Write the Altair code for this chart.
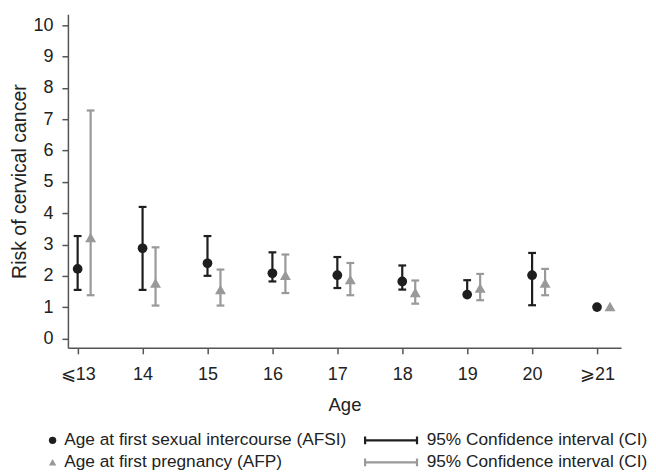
import altair as alt
import pandas as pd

age_labels = ["⩽13", "14", "15", "16", "17", "18", "19", "20", "⩾21"]
afsi_est = [2.22, 2.88, 2.40, 2.08, 2.02, 1.82, 1.40, 2.02, 1.00]
afsi_lo = [1.55, 1.55, 2.00, 1.82, 1.61, 1.56, 1.40, 1.06, 1.00]
afsi_hi = [3.27, 4.20, 3.27, 2.75, 2.60, 2.33, 1.86, 2.73, 1.00]
afp_est = [3.22, 1.77, 1.56, 2.02, 1.88, 1.47, 1.61, 1.77, 1.02]
afp_lo = [1.38, 1.05, 1.05, 1.45, 1.38, 1.11, 1.22, 1.38, 1.02]
afp_hi = [7.28, 2.91, 2.20, 2.68, 2.41, 1.85, 2.06, 2.22, 1.02]

S1 = "Age at first sexual intercourse (AFSI)"
S2 = "Age at first pregnancy (AFP)"
BLACK = "#1e1e1e"
GRAY = "#999999"
offset = 0.2
cap = 0.06

rows = []
for i in range(len(age_labels)):
    rows.append(dict(series=S1, ci="CI1", x=i, est=afsi_est[i], lo=afsi_lo[i], hi=afsi_hi[i]))
    rows.append(dict(series=S2, ci="CI2", x=i + offset, est=afp_est[i], lo=afp_lo[i], hi=afp_hi[i]))
df = pd.DataFrame(rows)
df["xl"] = df["x"] - cap
df["xr"] = df["x"] + cap
ci_df = df[df["hi"] > df["lo"]]

FONT = "Liberation Sans"
label_expr = "[" + ",".join(f"'{l}'" for l in age_labels) + "][round(datum.value)]"

xscale = alt.Scale(domain=[-0.15, 8.37], nice=False, zero=False)
yscale = alt.Scale(domain=[-0.3, 10.35], nice=False, zero=False)

xaxis = alt.Axis(values=list(range(9)), labelExpr=label_expr, grid=False, title="Age",
                 tickSize=6, labelPadding=12, titlePadding=12, labelFontSize=18,
                 titleFontSize=18.5)
yaxis = alt.Axis(values=list(range(11)), grid=False, title="Risk of cervical cancer",
                 tickSize=6, labelPadding=9, titlePadding=3, labelFontSize=18,
                 titleFontSize=19.5, labelOverlap=False)

stroke_scale = alt.Scale(domain=["CI1", "CI2"], range=[BLACK, GRAY])
ci_legend = alt.Legend(
    title=None, orient="none", legendX=315, legendY=418, direction="vertical",
    symbolType="M-4,0H4M-4,-0.6V0.6M4,-0.6V0.6", symbolSize=169,
    symbolStrokeWidth=2.2, labelExpr="'95% Confidence interval (CI)'",
    labelOffset=27, rowPadding=4,
)

base = alt.Chart(ci_df)
vert = base.mark_rule(strokeWidth=2.2).encode(
    x=alt.X("x:Q", scale=xscale, axis=xaxis),
    y=alt.Y("lo:Q", scale=yscale, axis=yaxis),
    y2="hi:Q",
    stroke=alt.Stroke("ci:N", scale=stroke_scale, legend=ci_legend),
)
cap_hi = base.mark_rule(strokeWidth=2.2).encode(
    x=alt.X("xl:Q", scale=xscale, axis=xaxis), x2="xr:Q",
    y=alt.Y("hi:Q", scale=yscale, axis=yaxis),
    stroke=alt.Stroke("ci:N", scale=stroke_scale, legend=ci_legend),
)
cap_lo = base.mark_rule(strokeWidth=2.2).encode(
    x=alt.X("xl:Q", scale=xscale, axis=xaxis), x2="xr:Q",
    y=alt.Y("lo:Q", scale=yscale, axis=yaxis),
    stroke=alt.Stroke("ci:N", scale=stroke_scale, legend=ci_legend),
)

pt_legend = alt.Legend(title=None, orient="none", legendX=-24, legendY=418,
                       direction="vertical", symbolSize=55, rowPadding=4, labelOffset=3)
color_scale = alt.Scale(domain=[S1, S2], range=[BLACK, GRAY])
shape_scale = alt.Scale(domain=[S1, S2], range=["circle", "triangle-up"])


def point_layer(series, size):
    return alt.Chart(df).transform_filter(alt.datum.series == series).mark_point(
        filled=True, opacity=1, size=size
    ).encode(
        x=alt.X("x:Q", scale=xscale, axis=xaxis),
        y=alt.Y("est:Q", scale=yscale, axis=yaxis),
        color=alt.Color("series:N", scale=color_scale, legend=pt_legend),
        shape=alt.Shape("series:N", scale=shape_scale, legend=pt_legend),
    )


chart = alt.layer(vert, cap_hi, cap_lo, point_layer(S1, 95), point_layer(S2, 120)).properties(
    width=554, height=334, padding={"left": 1, "top": 6, "right": 0, "bottom": 0},
).configure_view(
    stroke=None
).configure_axis(
    labelFont=FONT, titleFont=FONT,
    titleFontWeight="normal", labelColor="#222222", titleColor="#222222",
    domainColor="#555555", tickColor="#555555", domainWidth=1.5, tickWidth=1.5,
).configure_legend(
    labelFont=FONT, labelFontSize=17.3, labelColor="#222222", labelLimit=0,
)

chart.save("out.html", embed_options={"renderer": "svg", "actions": False})
